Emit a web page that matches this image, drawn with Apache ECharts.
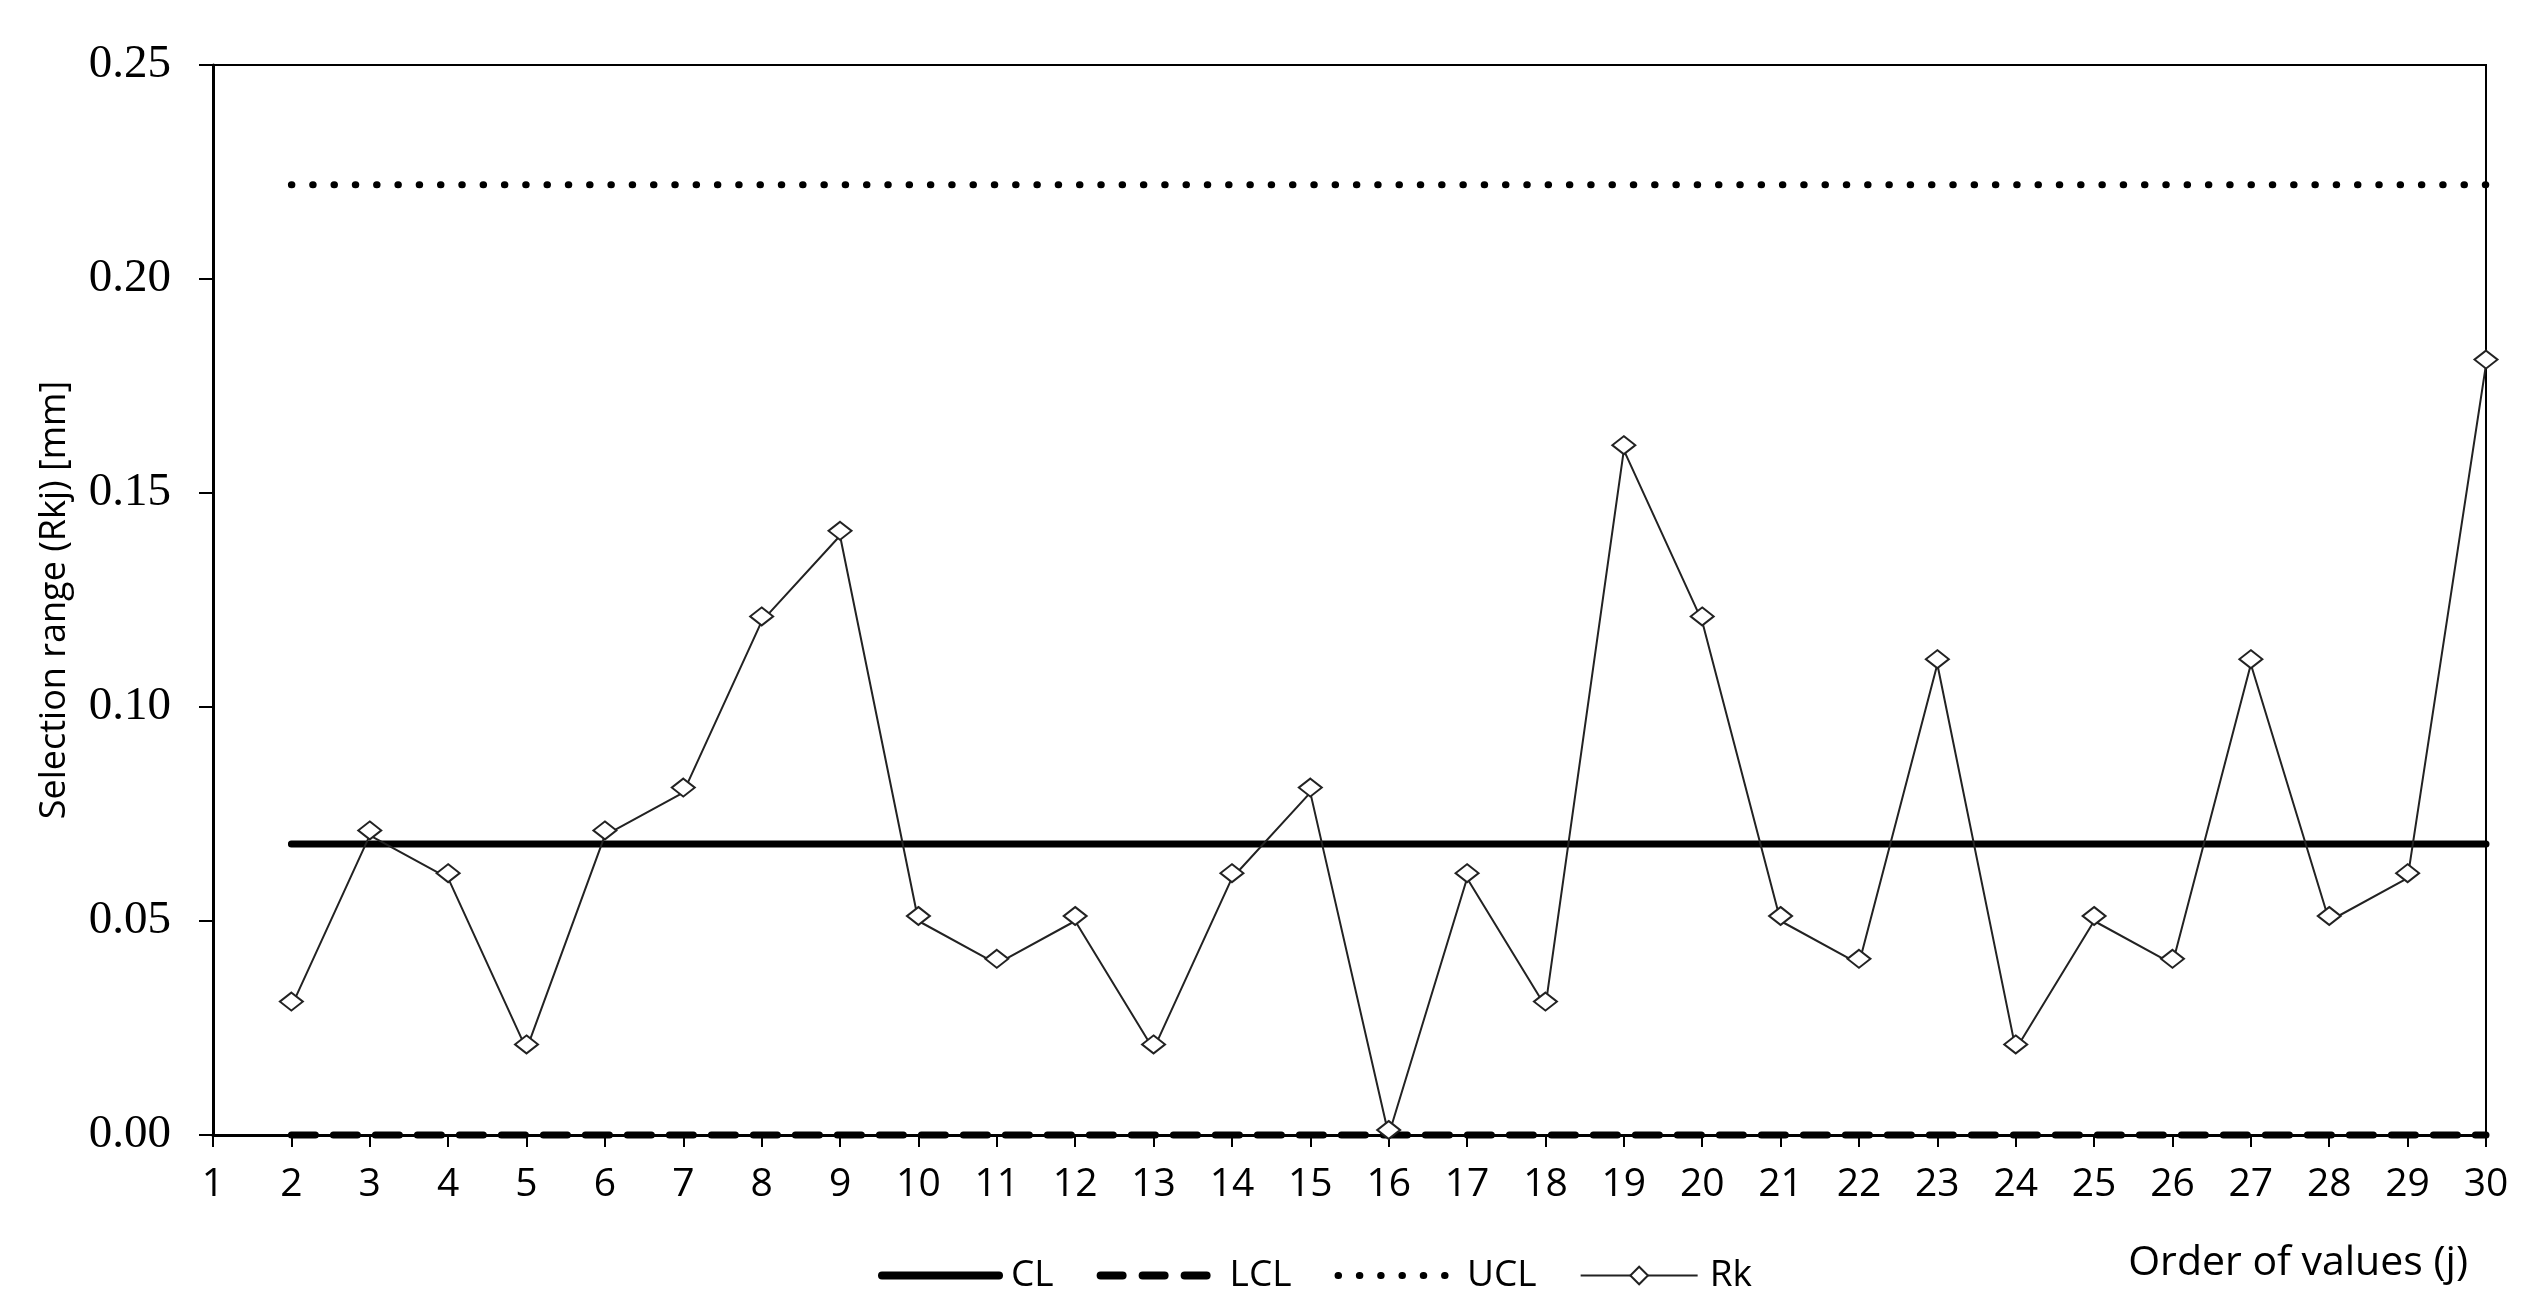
<!DOCTYPE html>
<html>
<head>
<meta charset="utf-8">
<script src="https://cdn.jsdelivr.net/npm/echarts@6/dist/echarts.min.js"></script>
<style>html,body{margin:0;padding:0;background:#fff}#c{width:2544px;height:1314px}</style>
</head>
<body>
<div id="c"></div>
<script>
const categories = ['1','2','3','4','5','6','7','8','9','10','11','12','13','14','15','16','17','18','19','20','21','22','23','24','25','26','27','28','29','30'];
const rkValues = [null,0.03,0.07,0.06,0.02,0.07,0.08,0.12,0.14,0.05,0.04,0.05,0.02,0.06,0.08,0.00,0.06,0.03,0.16,0.12,0.05,0.04,0.11,0.02,0.05,0.04,0.11,0.05,0.06,0.18];
const clValue = 0.068;
const lclValue = 0.0;
const uclValue = 0.222;
const yTicks = [0, 0.05, 0.10, 0.15, 0.20, 0.25];

const limitLine = v => categories.map((c, i) => i === 0 ? null : v);
const sansFont = '"Open Sans", "Liberation Sans", sans-serif';

const clStyle = {color: '#000', width: 7, type: 'solid', cap: 'round'};
const lclStyle = {color: '#000', width: 7, type: [24, 18], cap: 'round'};
const uclStyle = {color: '#000', width: 7, type: [0.5, 20.8], cap: 'round'};
const rkStyle = {color: '#222', width: 2, type: 'solid'};

const chart = echarts.init(document.getElementById('c'), null, {renderer: 'canvas'});
chart.setOption({
  animation: false,
  backgroundColor: '#fff',
  grid: {left: 213, right: 58, top: 65, bottom: 179, show: true, borderColor: '#000', borderWidth: 2, backgroundColor: 'transparent'},
  legend: {
    left: 873, top: 1252,
    itemWidth: 117, itemHeight: 22, itemGap: 43,
    textStyle: {fontFamily: sansFont, fontSize: 37, color: '#000', padding: [0,0,0,7]},
    data: [
      {name: 'CL', lineStyle: {color: '#000', width: 8, type: 'solid', cap: 'round'}, itemStyle: {opacity: 0}},
      {name: 'LCL', lineStyle: {color: '#000', width: 8, type: [22, 20], cap: 'round'}, itemStyle: {opacity: 0}},
      {name: 'UCL', lineStyle: {color: '#000', width: 7, type: [0.5, 20.8], cap: 'round'}, itemStyle: {opacity: 0}},
      {name: 'Rk', lineStyle: rkStyle, itemStyle: {color: '#fff', borderColor: '#222', borderWidth: 2}}
    ]
  },
  xAxis: {
    type: 'category',
    data: categories,
    boundaryGap: false,
    name: 'Order of values (j)',
    nameLocation: 'end',
    nameGap: -18,
    nameTextStyle: {fontFamily: sansFont, fontSize: 41, color: '#000', align: 'right', verticalAlign: 'top', padding: [108, 0, 0, 0]},
    axisLine: {lineStyle: {color: '#000', width: 3}},
    axisTick: {alignWithLabel: true, length: 12, lineStyle: {color: '#000', width: 2}},
    axisLabel: {fontFamily: sansFont, fontSize: 39, color: '#000', margin: 30, interval: 0},
    splitLine: {show: false}
  },
  yAxis: {
    type: 'value',
    min: 0, max: 0.25, interval: 0.05,
    name: 'Selection range (Rkj) [mm]',
    nameLocation: 'middle',
    nameGap: 140,
    nameTextStyle: {fontFamily: sansFont, fontSize: 36, color: '#000'},
    axisLine: {show: true, lineStyle: {color: '#000', width: 3}},
    axisTick: {show: true, length: 14, lineStyle: {color: '#000', width: 2}},
    axisLabel: {fontFamily: '"Liberation Serif", "Times New Roman", serif', fontSize: 47, color: '#000', margin: 42,
      formatter: v => yTicks.some(t => Math.abs(t - v) < 1e-9) ? v.toFixed(2) : ''},
    splitLine: {show: false}
  },
  series: [
    {name: 'CL', type: 'line', data: limitLine(clValue), showSymbol: false, symbol: 'none',
      lineStyle: clStyle, itemStyle: {color: '#000'}, z: 3},
    {name: 'LCL', type: 'line', data: limitLine(lclValue), showSymbol: false, symbol: 'none', clip: false,
      lineStyle: lclStyle, itemStyle: {color: '#000'}, z: 3},
    {name: 'UCL', type: 'line', data: limitLine(uclValue), showSymbol: false, symbol: 'none',
      lineStyle: uclStyle, itemStyle: {color: '#000'}, z: 3},
    {name: 'Rk', type: 'line', data: rkValues, symbol: 'diamond', symbolSize: [23, 18], symbolOffset: [0, -5],
      showAllSymbol: true,
      lineStyle: rkStyle, itemStyle: {color: '#fff', borderColor: '#222', borderWidth: 2}, z: 4}
  ]
});
</script>
</body>
</html>
